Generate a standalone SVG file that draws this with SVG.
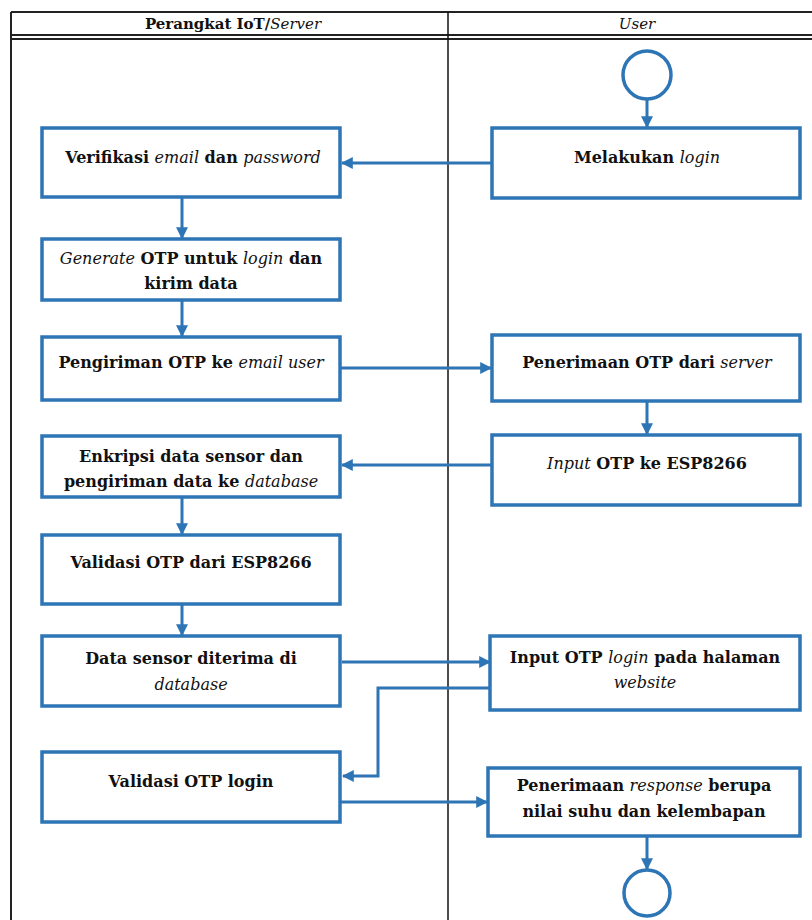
<svg xmlns="http://www.w3.org/2000/svg" width="812" height="920" viewBox="0 0 812 920" font-family="'DejaVu Serif', serif">
  <defs>
    <marker id="arr" viewBox="0 0 10 10" refX="9" refY="5" markerWidth="4" markerHeight="4" orient="auto" markerUnits="strokeWidth">
      <path d="M0,0 L10,5 L0,10 z" fill="#2E75B6"/>
    </marker>
  </defs>
  <style>
    .lane { fill: none; stroke: #222; stroke-width: 2; }
    .div { stroke: #111; stroke-width: 1.5; }
    .box { fill: #fff; stroke: #2E75B6; stroke-width: 3.5; }
    .circ { fill: #fff; stroke: #2E75B6; stroke-width: 3.5; }
    .conn { fill: none; stroke: #2E75B6; stroke-width: 3; marker-end: url(#arr); }
    .t { font-family: 'DejaVu Serif', serif; font-size: 16px; font-weight: bold; fill: #111; text-anchor: middle; }
    .hd { font-size: 15px; }
    .i { font-style: italic; font-weight: normal; }
  </style>
  <rect width="812" height="920" fill="#fff"/>

  <!-- swimlane frame -->
  <g id="lanes">
    <line class="lane" x1="11" y1="12" x2="812" y2="12"/>
    <line class="lane" x1="11" y1="12" x2="11" y2="920"/>
    <line class="lane" x1="11" y1="35" x2="812" y2="35"/>
    <line class="lane" x1="11" y1="39" x2="812" y2="39" stroke="#555"/>
    <line class="div" x1="448" y1="12" x2="448" y2="920"/>
    <text class="t hd" x="233" y="29">Perangkat IoT/<tspan class="i">Server</tspan></text>
    <text class="t hd i" x="637" y="29">User</text>
  </g>

  <!-- connectors -->
  <g id="connectors">
    <path class="conn" d="M647,99 V127"/>
    <path class="conn" d="M492,163 H342"/>
    <path class="conn" d="M182,197 V238"/>
    <path class="conn" d="M182,300 V336"/>
    <path class="conn" d="M340,368 H491"/>
    <path class="conn" d="M647,401 V434"/>
    <path class="conn" d="M492,465 H342"/>
    <path class="conn" d="M182,497 V534"/>
    <path class="conn" d="M182,604 V635"/>
    <path class="conn" d="M342,662 H490"/>
    <path class="conn" d="M490,688 H378 V776 H343"/>
    <path class="conn" d="M340,802 H487"/>
    <path class="conn" d="M647,836 V869"/>
  </g>

  <g id="start"><circle class="circ" cx="647" cy="75" r="24"/></g>

  <g id="n-melakukan-login">
    <rect class="box" x="492" y="128" width="308" height="70"/>
    <text class="t" x="647" y="163">Melakukan <tspan class="i">login</tspan></text>
  </g>

  <g id="n-verifikasi">
    <rect class="box" x="42" y="128" width="298" height="69"/>
    <text class="t" x="193" y="163">Verifikasi <tspan class="i">email</tspan> dan <tspan class="i">password</tspan></text>
  </g>

  <g id="n-generate">
    <rect class="box" x="42" y="239" width="298" height="61"/>
    <text class="t" x="191" y="264"><tspan class="i">Generate</tspan> OTP untuk <tspan class="i">login</tspan> dan</text>
    <text class="t" x="191" y="289">kirim data</text>
  </g>

  <g id="n-pengiriman">
    <rect class="box" x="42" y="337" width="298" height="63"/>
    <text class="t" x="191" y="368">Pengiriman OTP ke <tspan class="i">email user</tspan></text>
  </g>

  <g id="n-penerimaan-otp">
    <rect class="box" x="492" y="335" width="308" height="66"/>
    <text class="t" x="647" y="368">Penerimaan OTP dari <tspan class="i">server</tspan></text>
  </g>

  <g id="n-input-esp">
    <rect class="box" x="492" y="435" width="308" height="70"/>
    <text class="t" x="647" y="469"><tspan class="i">Input</tspan> OTP ke ESP8266</text>
  </g>

  <g id="n-enkripsi">
    <rect class="box" x="42" y="436" width="298" height="61"/>
    <text class="t" x="191" y="462">Enkripsi data sensor dan</text>
    <text class="t" x="191" y="487">pengiriman data ke <tspan class="i">database</tspan></text>
  </g>

  <g id="n-validasi-esp">
    <rect class="box" x="42" y="535" width="298" height="69"/>
    <text class="t" x="191" y="568">Validasi OTP dari ESP8266</text>
  </g>

  <g id="n-data-sensor">
    <rect class="box" x="42" y="636" width="298" height="70"/>
    <text class="t" x="191" y="664">Data sensor diterima di</text>
    <text class="t i" x="191" y="690">database</text>
  </g>

  <g id="n-input-login">
    <rect class="box" x="490" y="636" width="310" height="74"/>
    <text class="t" x="645" y="663">Input OTP <tspan class="i">login</tspan> pada halaman</text>
    <text class="t i" x="645" y="688">website</text>
  </g>

  <g id="n-validasi-login">
    <rect class="box" x="42" y="752" width="298" height="70"/>
    <text class="t" x="191" y="787">Validasi OTP login</text>
  </g>

  <g id="n-response">
    <rect class="box" x="488" y="768" width="312" height="68"/>
    <text class="t" x="644" y="791">Penerimaan <tspan class="i">response</tspan> berupa</text>
    <text class="t" x="644" y="817">nilai suhu dan kelembapan</text>
  </g>

  <g id="end"><circle class="circ" cx="647" cy="893" r="23"/></g>
</svg>
